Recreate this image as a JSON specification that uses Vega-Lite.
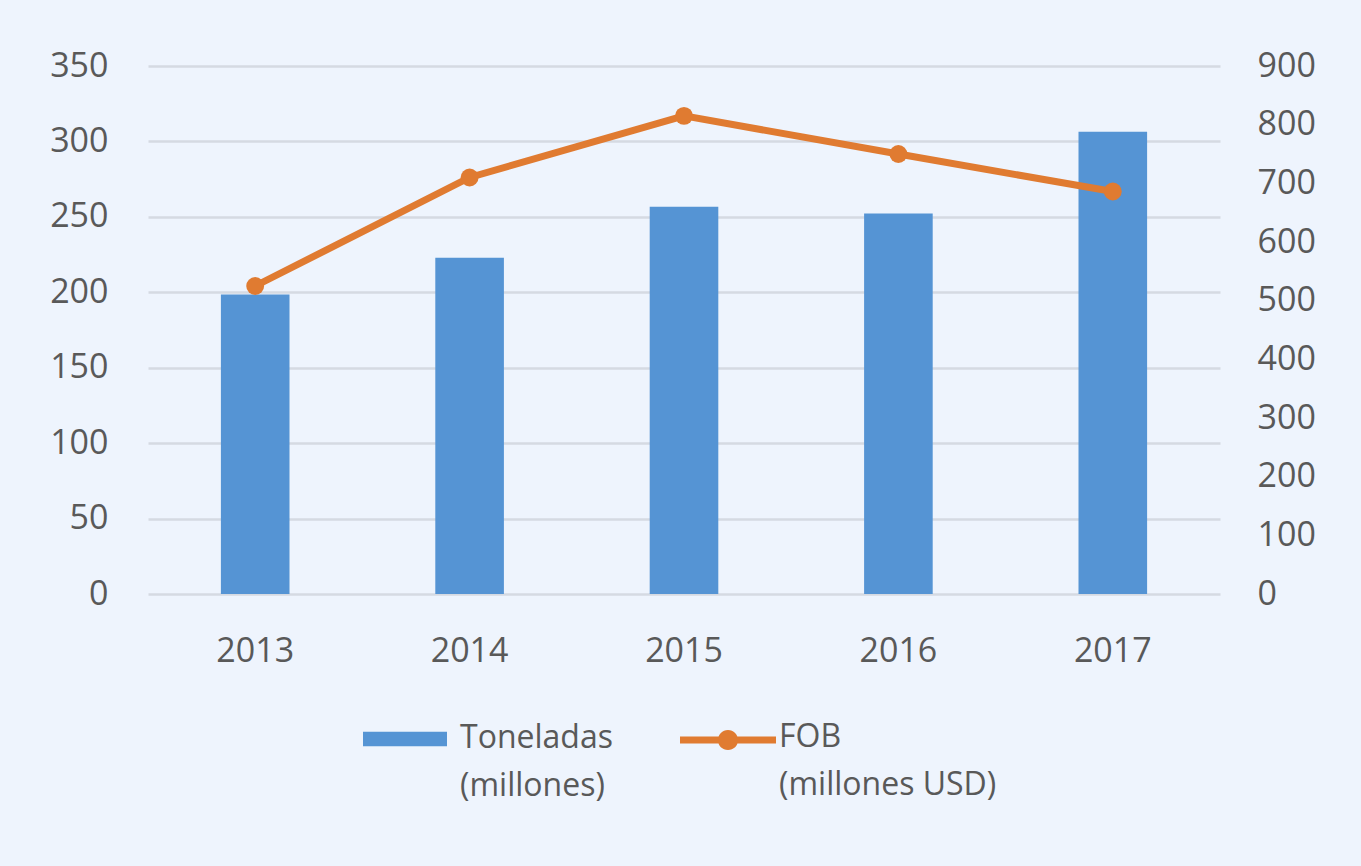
{
  "$schema": "https://vega.github.io/schema/vega-lite/v6.json",
  "autosize": "none",
  "width": 1072,
  "height": 528,
  "padding": {"left": 148, "top": 66, "right": 141, "bottom": 272},
  "background": "#EEF4FD",
  "config": {
    "view": {"stroke": null},
    "font": "Open Sans",
    "axis": {"labelFont": "Open Sans", "labelFontSize": 34, "labelColor": "#595959", "domain": false, "ticks": false, "title": null},
    "legend": {"labelFont": "Open Sans", "labelFontSize": 32, "labelColor": "#595959", "title": null, "labelLimit": 0}
  },
  "data": {
    "values": [
      {"year": "2013", "toneladas": 198.6, "fob": 525},
      {"year": "2014", "toneladas": 222.9, "fob": 710},
      {"year": "2015", "toneladas": 256.7, "fob": 815},
      {"year": "2016", "toneladas": 252.3, "fob": 750},
      {"year": "2017", "toneladas": 306.4, "fob": 686}
    ]
  },
  "encoding": {
    "x": {
      "field": "year", "type": "ordinal",
      "scale": {"paddingInner": 0.68, "paddingOuter": 0.34},
      "axis": {"labelAngle": 0, "labelPadding": 40, "grid": false}
    }
  },
  "layer": [
    {
      "mark": {"type": "bar", "color": "#5594D4"},
      "encoding": {
        "y": {
          "field": "toneladas", "type": "quantitative",
          "scale": {"domain": [0, 350]},
          "axis": {"orient": "left", "values": [0, 50, 100, 150, 200, 250, 300, 350], "grid": true, "gridColor": "#D5DAE2", "gridWidth": 2.5, "labelPadding": 40}
        },
        "fill": {
          "datum": "Toneladas (millones)",
          "scale": {"range": ["#5594D4"]},
          "legend": {
            "orient": "none", "legendX": 215, "legendY": 631,
            "symbolType": "M-1,-0.17H1V0.17H-1Z",
            "symbolSize": 7056,
            "symbolStrokeWidth": 0,
            "labelOffset": 13,
            "labelBaseline": "top",
            "labelExpr": "['Toneladas', '(millones)']",
            "encode": {"labels": {"update": {"lineHeight": {"value": 48}, "dy": {"value": -16}}}}
          }
        }
      }
    },
    {
      "encoding": {
        "y": {
          "field": "fob", "type": "quantitative",
          "scale": {"domain": [0, 900]},
          "axis": {"orient": "right", "values": [0, 100, 200, 300, 400, 500, 600, 700, 800, 900], "grid": false, "labelPadding": 37}
        }
      },
      "layer": [
        {
          "mark": {"type": "line", "strokeWidth": 7},
          "encoding": {
            "stroke": {
              "datum": "FOB (millones USD)",
              "scale": {"range": ["#E07B31"]},
              "legend": {
                "orient": "none", "legendX": 532, "legendY": 626,
                "symbolType": "M-1,-0.075H1V0.075H-1Z M0.21,0A0.21,0.21,0,1,1,-0.21,0A0.21,0.21,0,1,1,0.21,0Z",
                "symbolSize": 9216,
                "labelOffset": 3,
                "labelBaseline": "top",
                "labelExpr": "['FOB', '(millones USD)']",
                "encode": {
                  "symbols": {"update": {"fill": {"value": "#E07B31"}, "strokeWidth": {"value": 0}}},
                  "labels": {"update": {"lineHeight": {"value": 48}, "dy": {"value": -18}}}
                }
              }
            }
          }
        },
        {
          "mark": {"type": "point", "filled": true, "size": 320, "color": "#E07B31", "opacity": 1}
        }
      ]
    }
  ],
  "resolve": {"scale": {"y": "independent"}}
}
